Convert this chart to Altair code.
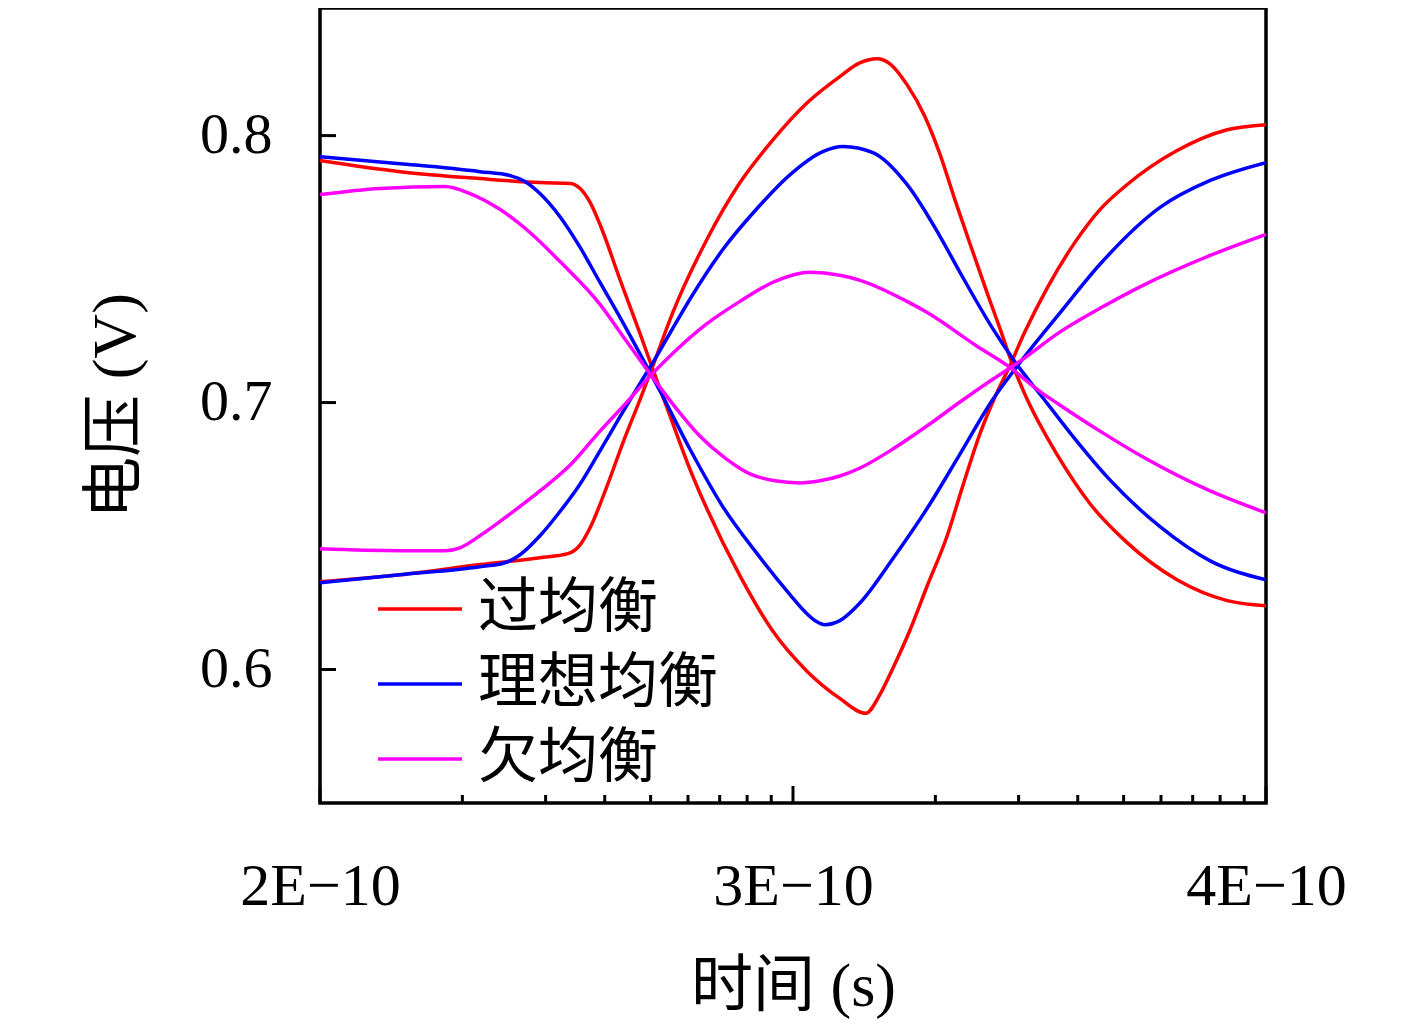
import altair as alt
import pandas as pd

series_names = ["过均衡", "理想均衡", "欠均衡"]
series_colors = ["#FF0000", "#0000FF", "#FF00FF"]

# time in ps, voltage in V (two traces per equalisation case: eye diagram)
over_a_ps = [200, 216.9, 233.8, 246.5, 252.9, 255.0, 257.1, 259.2, 263.4, 267.7, 270.2, 274.0, 278.2, 281.8, 288.8,
             295.8, 303.0, 309.9, 315.4, 318.4, 321.1, 324.7, 328.3, 332.6, 335.9, 339.5, 342.7, 345.9, 349.0, 353.7,
             359.6, 364.9, 370.4, 381.2, 391.8, 400.0]
over_a_v = [0.7907, 0.7865, 0.7839, 0.7824, 0.7821, 0.7802, 0.7750, 0.7667, 0.7462, 0.7256, 0.7133, 0.6950, 0.6751,
            0.6602, 0.6351, 0.6142, 0.5993, 0.5892, 0.5836, 0.5907, 0.6004, 0.6146, 0.6310, 0.6501, 0.6688, 0.6882,
            0.7021, 0.7140, 0.7264, 0.7428, 0.7600, 0.7723, 0.7813, 0.7944, 0.8022, 0.8041]
over_b_ps = [200, 216.9, 233.8, 246.5, 252.4, 255.0, 257.1, 260.7, 264.1, 267.7, 270.2, 274.6, 281.8, 288.8, 295.8,
             303.0, 309.9, 314.2, 317.8, 320.5, 324.1, 327.9, 331.1, 334.2, 337.4, 341.0, 343.8, 346.3, 349.0, 356.0,
             362.8, 370.4, 381.2, 391.8, 400.0]
over_b_v = [0.6329, 0.6355, 0.6393, 0.6419, 0.6434, 0.6467, 0.6531, 0.6688, 0.6852, 0.7013, 0.7129, 0.7338, 0.7611,
            0.7824, 0.7985, 0.8123, 0.8221, 0.8273, 0.8288, 0.8269, 0.8191, 0.8071, 0.7929, 0.7761, 0.7596, 0.7413,
            0.7275, 0.7148, 0.7032, 0.6800, 0.6621, 0.6479, 0.6336, 0.6258, 0.6239]

ideal_a_ps = [200, 216.9, 233.8, 240.2, 243.3, 246.5, 250.7, 255.0, 259.2, 263.4, 267.7, 271.9, 278.2, 285.2, 292.4,
              299.4, 302.5, 304.7, 306.8, 309.9, 314.2, 321.1, 328.3, 335.3, 342.3, 347.4, 356.4, 364.9, 377.6, 388.2,
              400.0]
ideal_a_v = [0.7921, 0.7895, 0.7865, 0.7850, 0.7828, 0.7783, 0.7697, 0.7581, 0.7450, 0.7320, 0.7181, 0.7043, 0.6826,
             0.6609, 0.6434, 0.6280, 0.6217, 0.6183, 0.6168, 0.6183, 0.6250, 0.6415, 0.6602, 0.6807, 0.7013, 0.7136,
             0.7335, 0.7518, 0.7731, 0.7832, 0.7899]
ideal_b_ps = [200, 216.9, 233.8, 239.1, 242.3, 246.5, 250.7, 255.0, 259.2, 263.4, 267.7, 269.8, 274.0, 278.2, 285.2,
              292.4, 299.4, 306.3, 310.6, 316.9, 324.1, 331.1, 335.3, 342.3, 346.5, 353.7, 359.6, 366.8, 377.6, 388.2,
              400.0]
ideal_b_v = [0.6325, 0.6355, 0.6385, 0.6400, 0.6430, 0.6501, 0.6591, 0.6695, 0.6819, 0.6946, 0.7073, 0.7133, 0.7260,
             0.7387, 0.7574, 0.7727, 0.7854, 0.7940, 0.7959, 0.7936, 0.7817, 0.7622, 0.7488, 0.7275, 0.7163, 0.6998,
             0.6864, 0.6714, 0.6535, 0.6407, 0.6336]

under_a_ps = [200, 212.7, 226.4, 231.7, 238.1, 244.4, 250.7, 259.2, 264.5, 269.8, 275.1, 280.3, 285.6, 290.9, 296.2,
              301.5, 305.7, 309.9, 314.2, 320.5, 328.3, 335.3, 342.3, 348.0, 356.4, 364.9, 374.0, 388.2, 400.0]
under_a_v = [0.7779, 0.7802, 0.7809, 0.7783, 0.7723, 0.7637, 0.7529, 0.7368, 0.7237, 0.7107, 0.6983, 0.6875, 0.6793,
             0.6733, 0.6707, 0.6699, 0.6707, 0.6725, 0.6755, 0.6819, 0.6912, 0.7002, 0.7088, 0.7155, 0.7264, 0.7353,
             0.7439, 0.7551, 0.7630]
under_b_ps = [200, 216.9, 226.4, 229.6, 233.8, 240.2, 246.5, 252.9, 259.2, 264.5, 269.8, 275.1, 281.4, 288.8, 296.2,
              303.6, 309.9, 314.2, 324.1, 328.3, 338.9, 345.2, 352.4, 356.4, 364.9, 374.0, 388.2, 400.0]
under_b_v = [0.6452, 0.6445, 0.6445, 0.6456, 0.6501, 0.6583, 0.6669, 0.6766, 0.6893, 0.6994, 0.7099, 0.7193, 0.7290,
             0.7379, 0.7454, 0.7488, 0.7477, 0.7458, 0.7379, 0.7338, 0.7211, 0.7140, 0.7039, 0.6991, 0.6893, 0.6796,
             0.6669, 0.6587]

x_major_ps = [200, 300, 400]
x_minor_ps = [230.1, 247.7, 260.2, 269.9, 277.8, 284.5, 290.3, 295.4,
              330.1, 347.7, 360.2, 369.9, 377.8, 384.5, 390.3, 395.4]
y_major = [0.6, 0.7, 0.8]

traces = [
    ("过均衡", "over_a", over_a_ps, over_a_v),
    ("过均衡", "over_b", over_b_ps, over_b_v),
    ("理想均衡", "ideal_a", ideal_a_ps, ideal_a_v),
    ("理想均衡", "ideal_b", ideal_b_ps, ideal_b_v),
    ("欠均衡", "under_a", under_a_ps, under_a_v),
    ("欠均衡", "under_b", under_b_ps, under_b_v),
]
rows = []
for name, tid, ts, vs in traces:
    for t, v in zip(ts, vs):
        rows.append({"series": name, "trace": tid, "t": t * 1e-12, "v": v})
df = pd.DataFrame(rows)

W, H = 946, 795
SERIF = "Liberation Serif"
MIXED = "Liberation Serif, Noto Sans CJK SC"

xscale = alt.Scale(domain=[2e-10, 4e-10], nice=False, zero=False)
yscale = alt.Scale(domain=[0.55, 0.8478], nice=False, zero=False)

lines = alt.Chart(df).mark_line(strokeWidth=3.5, interpolate="monotone", clip=True).encode(
    x=alt.X("t:Q", scale=xscale,
            axis=alt.Axis(values=[2e-10, 3e-10, 4e-10],
                          labelExpr="round(datum.value*1e10) + 'E−10'",
                          ticks=False, tickSize=0, domain=False, grid=False,
                          labelFont=SERIF, labelFontSize=60, labelColor="black",
                          labelPadding=54, labelFlush=False, labelOverlap=False,
                          title="时间 (s)", titleFont=MIXED, titleFontSize=62,
                          titleFontWeight="normal", titleColor="black", titlePadding=40)),
    y=alt.Y("v:Q", scale=yscale,
            axis=alt.Axis(values=y_major, format=".1f",
                          ticks=False, tickSize=0, domain=False, grid=False,
                          labelFont=SERIF, labelFontSize=58, labelColor="black",
                          labelPadding=48, labelFlush=False, labelOverlap=False,
                          title="电压 (V)", titleFont=MIXED, titleFontSize=62,
                          titleFontWeight="normal", titleColor="black", titlePadding=52)),
    color=alt.Color("series:N", scale=alt.Scale(domain=series_names, range=series_colors),
                    legend=alt.Legend(title=None, orient="none", legendX=56, legendY=571,
                                      symbolType="stroke", symbolSize=7056, symbolStrokeWidth=3.5,
                                      clipHeight=60, rowPadding=15, padding=0,
                                      labelFont="Noto Sans CJK SC", labelFontSize=60,
                                      labelColor="black", labelOffset=14, labelLimit=400)),
    detail="trace:N",
)

xmaj = alt.Chart(pd.DataFrame({"t": [p * 1e-12 for p in x_major_ps]})).mark_rule(
    color="black", strokeWidth=3).encode(
    x=alt.X("t:Q", scale=xscale), y=alt.value(H), y2=alt.value(H - 17))
xmin = alt.Chart(pd.DataFrame({"t": [p * 1e-12 for p in x_minor_ps]})).mark_rule(
    color="black", strokeWidth=3).encode(
    x=alt.X("t:Q", scale=xscale), y=alt.value(H), y2=alt.value(H - 8))
ymaj = alt.Chart(pd.DataFrame({"v": y_major})).mark_rule(
    color="black", strokeWidth=3).encode(
    y=alt.Y("v:Q", scale=yscale), x=alt.value(0), x2=alt.value(16))

chart = alt.layer(lines, xmaj, xmin, ymaj).properties(
    width=W, height=H,
    padding={"left": 312, "top": 0, "right": 100, "bottom": 217},
    autosize="none",
    background="white",
).configure_view(stroke="black", strokeWidth=3.5)

chart.save("out.html", embed_options={"renderer": "svg", "actions": False})
